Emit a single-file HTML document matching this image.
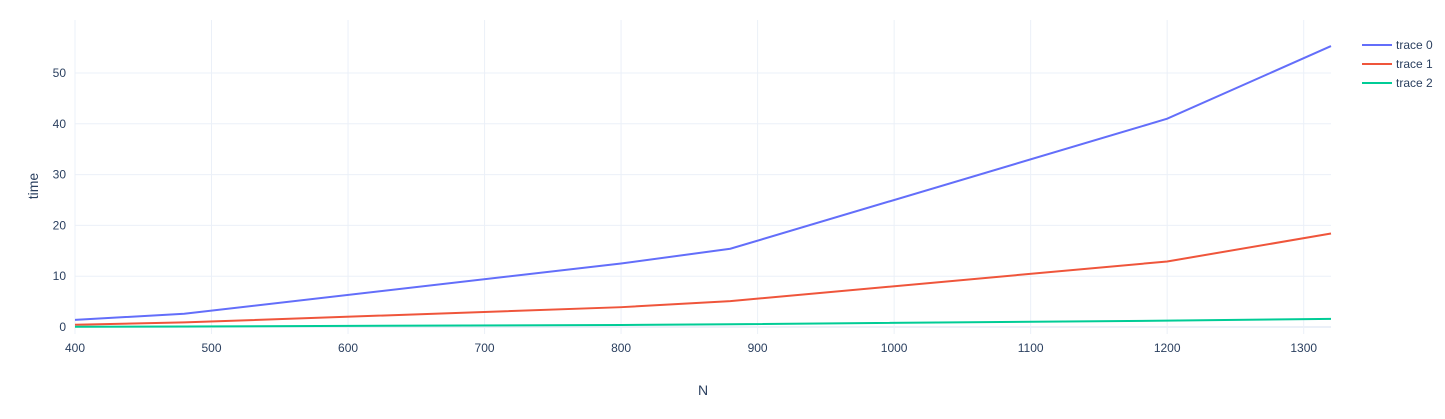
<!DOCTYPE html>
<html><head><meta charset="utf-8"><style>
html,body{margin:0;padding:0;background:#fff}
svg text{font-family:"Liberation Sans",sans-serif;fill:#2a3f5f}
</style></head><body>
<svg id="chart" width="1445" height="414" xmlns="http://www.w3.org/2000/svg">
<g id="grid"></g>
<g id="series"></g>
<g id="ticks"></g>
<text x="703" y="395" font-size="14" text-anchor="middle">N</text>
<text x="38" y="186" font-size="14" text-anchor="middle" transform="rotate(-90 38 186)">time</text>
<g id="legend"></g>
</svg>
<script>
const xs = [400, 480, 800, 880, 1200, 1320];
const trace0 = [1.4, 2.6, 12.5, 15.4, 41, 55.3];
const trace1 = [0.45, 0.9, 3.9, 5.1, 12.9, 18.4];
const trace2 = [0.05, 0.1, 0.4, 0.55, 1.25, 1.6];
const seriesNames = ['trace 0', 'trace 1', 'trace 2'];
const xTicks = [400, 500, 600, 700, 800, 900, 1000, 1100, 1200, 1300];
const yTicks = [0, 10, 20, 30, 40, 50];

const colors = ['#636efa', '#EF553B', '#00cc96'];
const NS = 'http://www.w3.org/2000/svg';
const X = v => 75 + (v - 400) * (1331 - 75) / 920;
const Y = v => 327 - v * (327 - 73) / 50;
function mk(tag, attrs, parent){const e=document.createElementNS(NS,tag);for(const k in attrs)e.setAttribute(k,attrs[k]);parent.appendChild(e);return e;}
const grid=document.getElementById('grid'), ticks=document.getElementById('ticks'), ser=document.getElementById('series'), leg=document.getElementById('legend');
xTicks.forEach(t=>{
  const l=mk('line',{x1:X(t),x2:X(t),y1:20,y2:334,stroke:'#ebf0f8','stroke-width':1},grid);
  
  
  const tx=mk('text',{x:X(t),y:352,'font-size':12,'text-anchor':'middle'},ticks);
  tx.textContent=t;
  
  
});
yTicks.forEach(t=>{
  const l=mk('line',{x1:75,x2:1331,y1:Y(t),y2:Y(t),stroke:'#ebf0f8','stroke-width':t===0?2:1},grid);
  
  
  const tx=mk('text',{x:66,y:Y(t)+4,'font-size':12,'text-anchor':'end'},ticks);
  tx.textContent=t;
  
  
});
[trace0,trace1,trace2].forEach((d,i)=>{
  const p=mk('polyline',{points:xs.map((x,j)=>X(x)+','+Y(d[j])).join(' '),fill:'none',stroke:colors[i],'stroke-width':2},ser);
  
  
  const g=mk('g',{},leg);
  
  
  const ly=45+i*19;
  mk('line',{x1:1362,x2:1392,y1:ly,y2:ly,stroke:colors[i],'stroke-width':2},g);
  const tx=mk('text',{x:1396,y:ly+4,'font-size':12},g);
  tx.textContent=seriesNames[i];
});
</script>
</body></html>
